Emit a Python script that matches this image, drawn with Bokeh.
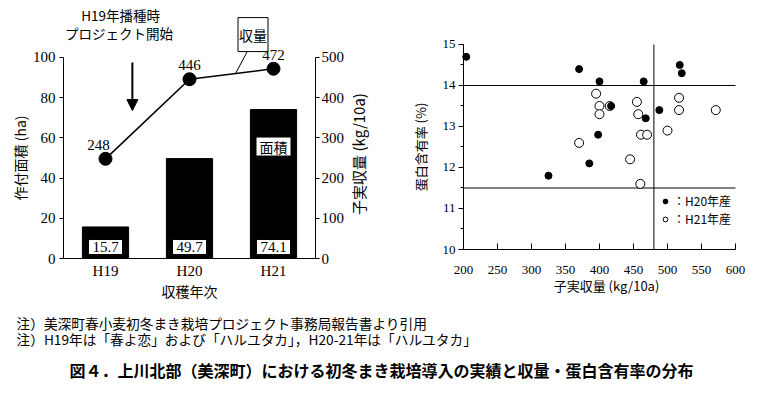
import math
from bokeh.plotting import figure
from bokeh.models import (FactorRange, Range1d, LinearAxis, FixedTicker, SingleIntervalTicker,
                          Label, Arrow, NormalHead, Legend, LegendItem, ColumnDataSource)
from bokeh.layouts import row, column
from bokeh.core.properties import value
from bokeh.embed import file_html
from bokeh.resources import INLINE

# ---------------- data ----------------
years = ["H19", "H20", "H21"]
area_ha = [15.7, 49.7, 74.1]
yield_kg = [248, 446, 472]

h20_yield = [204, 370, 400, 465, 518, 521, 417, 488, 468, 398, 385, 325]
h20_protein = [14.7, 14.4, 14.1, 14.1, 14.5, 14.3, 13.5, 13.4, 13.2, 12.8, 12.1, 11.8]
h21_yield = [395, 400, 400, 415, 455, 457, 370, 461, 470, 500, 517, 517, 571, 445, 460]
h21_protein = [13.8, 13.5, 13.3, 13.5, 13.6, 13.3, 12.6, 12.8, 12.8, 12.9, 13.7, 13.4, 13.4, 12.2, 11.6]

area_ticks = [0, 20, 40, 60, 80, 100]
yield_ticks = [0, 100, 200, 300, 400, 500]
scatter_x_ticks = [200, 250, 300, 350, 400, 450, 500, 550, 600]
scatter_y_ticks = [10, 11, 12, 13, 14, 15]
protein_limits = [14.0, 11.5]
yield_limit = 480

notes = ["注）美深町春小麦初冬まき栽培プロジェクト事務局報告書より引用",
         "注）H19年は「春よ恋」および「ハルユタカ」，H20-21年は「ハルユタカ」"]
title_text = "図４．上川北部（美深町）における初冬まき栽培導入の実績と収量・蛋白含有率の分布"

SERIF = "Liberation Serif"
JP = "Noto Sans CJK JP"

# ---------------- left chart ----------------
src = ColumnDataSource(dict(year=years, area=area_ha, yld=yield_kg,
                            area_label=[f"{v:.1f}" for v in area_ha]))

p1 = figure(width=390, height=310,
            x_range=FactorRange(factors=years, range_padding=0.75, range_padding_units="absolute"),
            y_range=Range1d(-25.87, 125.87), output_backend="svg", toolbar_location=None,
            min_border_left=0, min_border_right=12, min_border_top=5, min_border_bottom=0)
p1.outline_line_color = None
p1.xgrid.visible = False
p1.ygrid.visible = False
p1.extra_y_ranges = {"yield": Range1d(-129.35, 629.35)}

p1.yaxis.ticker = FixedTicker(ticks=area_ticks)
p1.yaxis.fixed_location = 0
p1.yaxis.bounds = (0, 100)
p1.yaxis.major_tick_out = 4
p1.yaxis.major_tick_in = 0
p1.yaxis.minor_tick_out = 0
p1.yaxis.minor_tick_in = 0
p1.yaxis.major_label_standoff = 4
p1.yaxis.axis_label = "作付面積 (ha)"
p1.yaxis.axis_label_standoff = 0

p1.xaxis.fixed_location = 0
p1.xaxis.bounds = (0, 3)
p1.xaxis.major_tick_out = 0
p1.xaxis.major_tick_in = 0
p1.xaxis.major_label_standoff = 4
p1.xaxis.axis_label = "収穫年次"
p1.xaxis.axis_label_standoff = -1

ax_r = LinearAxis(y_range_name="yield", ticker=FixedTicker(ticks=yield_ticks), bounds=(0, 500),
                  fixed_location=3)
ax_r.major_tick_out = 4
ax_r.major_tick_in = 0
ax_r.minor_tick_out = 0
ax_r.minor_tick_in = 0
ax_r.major_label_standoff = 2
p1.add_layout(ax_r, "right")

for ax in [p1.yaxis[0], p1.xaxis[0], ax_r]:
    ax.axis_line_color = "black"
    ax.major_tick_line_color = "black"
    ax.major_label_text_font = SERIF
    ax.major_label_text_font_size = "15px"
    ax.major_label_text_color = "black"
    ax.axis_label_text_font = JP
    ax.axis_label_text_font_size = "14px"
    ax.axis_label_text_font_style = "normal"
    ax.axis_label_text_color = "black"

# right-hand axis title, reading bottom to top
p1.add_layout(Label(x=3.512, y=52.0, text="子実収量 (kg/10a)", angle=math.pi / 2,
                    text_align="center", text_baseline="middle", text_font=JP,
                    text_font_size="15px", text_color="black"))

p1.vbar(x="year", top="area", width=0.55, source=src, fill_color="black", line_color="black")
p1.rect(x="year", y=5.7, width=34, height=15, width_units="screen", height_units="screen",
        source=src, fill_color="white", line_color="black", line_width=1)
p1.text(x="year", y=5.7, text="area_label", source=src, text_font=value(SERIF),
        text_font_size="15px", text_align="center", text_baseline="middle", text_color="black")

p1.rect(x=["H21"], y=[55.7], width=35, height=19, width_units="screen", height_units="screen",
        fill_color="white", line_color="black", line_width=1)
p1.text(x=["H21"], y=[55.7], text=["面積"], text_font=value(JP), text_font_size="14px",
        text_align="center", text_baseline="middle", text_color="black")

p1.line(x="year", y="yld", source=src, y_range_name="yield", line_color="black", line_width=1.6)
p1.scatter(x="year", y="yld", source=src, y_range_name="yield", size=13,
           fill_color="black", line_color="black")
p1.text(x=years, y=yield_kg, text=[str(v) for v in yield_kg], y_range_name="yield",
        x_offset=[-7, 0, 0], y_offset=-14, text_font=value(SERIF), text_font_size="15px",
        text_align="center", text_baseline="middle", text_color="black")

p1.add_layout(Arrow(end=NormalHead(size=11, fill_color="black", line_color="black"),
                    x_start=0.82, y_start=97.5, x_end=0.82, y_end=73.6,
                    line_width=2, line_color="black"))

p1.add_layout(Label(x=0.68, y=120.9, text="H19年播種時", text_align="center",
                    text_baseline="middle", text_font=JP, text_font_size="13.5px",
                    text_color="black"))
p1.add_layout(Label(x=0.66, y=112.4, text="プロジェクト開始", text_align="center",
                    text_baseline="middle", text_font=JP, text_font_size="13.5px",
                    text_color="black"))

p1.add_layout(Arrow(end=None, x_start=2.226, y_start=106, x_end=2.048, y_end=92.0,
                    line_width=1, line_color="black"))
p1.add_layout(Label(x=2.256, y=111.4, text="収量", text_align="center", text_baseline="middle",
                    text_font=JP, text_font_size="14px", text_color="black",
                    background_fill_color="white", border_line_color="black",
                    border_line_width=1, padding=(1, 7)))

# ---------------- right chart ----------------
p2 = figure(width=377, height=310, x_range=Range1d(92.647, 647.06),
            y_range=Range1d(8.5122, 15.9512),
            output_backend="svg", toolbar_location=None,
            min_border_left=0, min_border_right=0, min_border_top=5, min_border_bottom=0)
p2.outline_line_color = None
p2.xgrid.visible = False
p2.ygrid.visible = False

p2.xaxis.ticker = FixedTicker(ticks=scatter_x_ticks)
p2.xaxis.fixed_location = 10
p2.xaxis.bounds = (200, 600)
p2.xaxis.major_tick_in = 6
p2.xaxis.major_tick_out = 0
p2.xaxis.minor_tick_in = 0
p2.xaxis.minor_tick_out = 0
p2.xaxis.major_label_standoff = 16

p2.yaxis.ticker = SingleIntervalTicker(interval=1, num_minor_ticks=2)
p2.yaxis.fixed_location = 200
p2.yaxis.bounds = (10, 15)
p2.yaxis.major_tick_out = 5
p2.yaxis.major_tick_in = 0
p2.yaxis.minor_tick_out = 3
p2.yaxis.minor_tick_in = 0
p2.yaxis.major_label_standoff = 3
p2.yaxis.axis_label = "蛋白含有率 (%)"
p2.yaxis.axis_label_standoff = 10

for ax in [p2.xaxis[0], p2.yaxis[0]]:
    ax.axis_line_color = "black"
    ax.major_tick_line_color = "black"
    ax.minor_tick_line_color = "black"
    ax.major_label_text_font = SERIF
    ax.major_label_text_font_size = "13px"
    ax.major_label_text_color = "black"
    ax.axis_label_text_font = JP
    ax.axis_label_text_font_size = "13px"
    ax.axis_label_text_font_style = "normal"
    ax.axis_label_text_color = "black"

p2.add_layout(Label(x=410.3, y=9.122, text="子実収量 (kg/10a)", text_align="center",
                    text_baseline="middle", text_font=JP, text_font_size="13px",
                    text_color="black"))

p2.segment(x0=[scatter_x_ticks[0]] * len(protein_limits), y0=protein_limits,
           x1=[scatter_x_ticks[-1]] * len(protein_limits), y1=protein_limits,
           line_color="black", line_width=1)
p2.segment(x0=[yield_limit], y0=[scatter_y_ticks[0]], x1=[yield_limit], y1=[scatter_y_ticks[-1]],
           line_color="black", line_width=1)

r_open = p2.scatter(h21_yield, h21_protein, size=9, fill_color="white", line_color="black",
                    line_width=1)
r_fill = p2.scatter(h20_yield, h20_protein, size=7, fill_color="black", line_color="black")

legend_style = dict(border_line_color=None, background_fill_alpha=0, padding=0, margin=0,
                    spacing=0, label_height=14, glyph_height=14, glyph_width=12,
                    label_standoff=2, label_text_font=JP, label_text_font_size="12px",
                    label_text_color="black")
p2.add_layout(Legend(items=[LegendItem(label="：H20年産", renderers=[r_fill])],
                     location=(269, 101), **legend_style))
p2.add_layout(Legend(items=[LegendItem(label="：H21年産", renderers=[r_open])],
                     location=(269, 83), **legend_style))

# ---------------- notes & caption ----------------
p3 = figure(width=767, height=84, x_range=Range1d(0, 767), y_range=Range1d(84, 0),
            x_axis_type=None, y_axis_type=None, output_backend="svg", toolbar_location=None,
            min_border=0)
p3.outline_line_color = None
p3.xgrid.visible = False
p3.ygrid.visible = False
p3.text(x=[16, 16], y=[12, 28], text=notes, text_font=value(JP), text_font_size="13.7px",
        text_baseline="middle", text_align="left", text_color="black")
p3.text(x=[381], y=[59], text=[title_text], text_font=value(JP), text_font_size="16px",
        text_font_style="bold", text_baseline="middle", text_align="center", text_color="black")

layout = column(row(p1, p2), p3)
open("out.html", "w").write(file_html(layout, INLINE))
